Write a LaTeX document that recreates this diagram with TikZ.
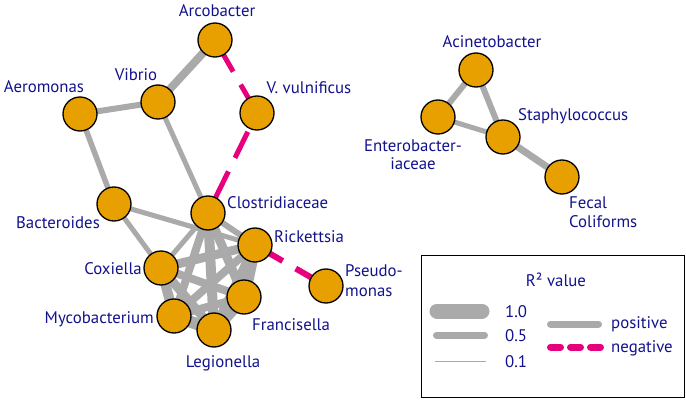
\documentclass[tikz,border=0pt]{standalone}
\usepackage{fontspec}
\setmainfont{PT Sans}
\usetikzlibrary{backgrounds}
\definecolor{nodeorange}{RGB}{232,160,0}
\definecolor{edgegrey}{RGB}{170,170,170}
\definecolor{negmagenta}{RGB}{230,0,126}
\definecolor{labelblue}{RGB}{18,18,140}
\tikzset{
  taxon/.style={circle, draw=black, line width=1.3pt, fill=nodeorange, minimum size=34pt, inner sep=0pt},
  lbl/.style={text=labelblue, font=\fontsize{16.8}{20}\selectfont, inner sep=0pt, anchor=base},
  posedge/.style={draw=edgegrey, line width=#1},
  negedge/.style={draw=negmagenta, line width=#1, dash pattern=on 29pt off 15pt},
}
\begin{document}
\begin{tikzpicture}[x=1pt,y=-1pt]
\useasboundingbox (0,0) rectangle (686,401);
\node[taxon] (arcobacter) at (215,40) {};
\node[taxon] (vibrio) at (158,102) {};
\node[taxon] (aeromonas) at (80,114) {};
\node[taxon] (vvulnificus) at (257,113) {};
\node[taxon] (bacteroides) at (114,204) {};
\node[taxon] (clostridiaceae) at (208,213) {};
\node[taxon] (rickettsia) at (255,245) {};
\node[taxon] (coxiella) at (161,268) {};
\node[taxon] (pseudomonas) at (326,286) {};
\node[taxon] (francisella) at (244,297) {};
\node[taxon] (mycobacterium) at (174,316) {};
\node[taxon] (legionella) at (214,330) {};
\node[taxon] (acinetobacter) at (476,70) {};
\node[taxon] (enterobacteriaceae) at (438,117) {};
\node[taxon] (staphylococcus) at (503,137) {};
\node[taxon] (fecal) at (562,177) {};
\node[lbl] (arcobacterlbl) at (217,17) {Arcobacter};
\node[lbl] (vibriolbl) at (136,81) {Vibrio};
\node[lbl] (aeromonaslbl) at (44,93) {Aeromonas};
\node[lbl] (vvulnificuslbl) at (309,94) {V. vulnificus};
\node[lbl] (bacteroideslbl) at (58,229) {Bacteroides};
\node[lbl, anchor=base west] (clostridiaceaelbl) at (227,209) {Clostridiaceae};
\node[lbl, anchor=base west] (rickettsialbl) at (274,243) {Rickettsia};
\node[lbl, anchor=base east] (coxiellalbl) at (142,274) {Coxiella};
\node[lbl, anchor=base west, align=left] (pseudomonaslbl) at (345,296) {Pseudo-\\monas};
\node[lbl, anchor=base west] (francisellalbl) at (252,330) {Francisella};
\node[lbl, anchor=base east] (mycobacteriumlbl) at (154,323) {Mycobacterium};
\node[lbl] (legionellalbl) at (223,367) {Legionella};
\node[lbl] (acinetobacterlbl) at (492,48) {Acinetobacter};
\node[lbl, anchor=base west] (staphylococcuslbl) at (518,121) {Staphylococcus};
\node[lbl, align=center, font=\fontsize{16.8}{18}\selectfont] (enterobacteriaceaelbl) at (413,170) {Enterobacter-\\iaceae};
\node[lbl, anchor=base west, align=left] (fecallbl) at (569,228) {Fecal\\Coliforms};
\begin{scope}[on background layer]
\draw[posedge=8pt] (arcobacter.center) -- (vibrio.center);
\draw[posedge=6pt] (vibrio.center) -- (aeromonas.center);
\draw[posedge=5.5pt] (aeromonas.center) -- (bacteroides.center);
\draw[posedge=5pt] (vibrio.center) -- (clostridiaceae.center);
\draw[posedge=5pt] (bacteroides.center) -- (rickettsia.center);
\draw[posedge=5pt] (bacteroides.center) -- (coxiella.center);
\draw[posedge=5pt] (clostridiaceae.center) -- (coxiella.center);
\draw[posedge=6pt] (clostridiaceae.center) -- (rickettsia.center);
\draw[posedge=9pt] (clostridiaceae.center) -- (francisella.center);
\draw[posedge=10pt] (clostridiaceae.center) -- (legionella.center);
\draw[posedge=8pt] (clostridiaceae.center) -- (mycobacterium.center);
\draw[posedge=9pt] (coxiella.center) -- (rickettsia.center);
\draw[posedge=8pt] (coxiella.center) -- (francisella.center);
\draw[posedge=10pt] (coxiella.center) -- (mycobacterium.center);
\draw[posedge=9pt] (coxiella.center) -- (legionella.center);
\draw[posedge=12pt] (mycobacterium.center) -- (legionella.center);
\draw[posedge=12pt] (legionella.center) -- (francisella.center);
\draw[posedge=12pt] (rickettsia.center) -- (francisella.center);
\draw[posedge=9pt] (rickettsia.center) -- (legionella.center);
\draw[posedge=8pt] (mycobacterium.center) -- (rickettsia.center);
\draw[posedge=8pt] (mycobacterium.center) -- (francisella.center);
\draw[posedge=6pt] (acinetobacter.center) -- (enterobacteriaceae.center);
\draw[posedge=6pt] (acinetobacter.center) -- (staphylococcus.center);
\draw[posedge=5pt] (enterobacteriaceae.center) -- (staphylococcus.center);
\draw[posedge=7pt] (staphylococcus.center) -- (fecal.center);
\draw[negedge=5pt, dash phase=36.5pt] (arcobacter.center) -- (vvulnificus.center);
\draw[negedge=5pt, dash phase=23pt] (vvulnificus.center) -- (clostridiaceae.center);
\draw[negedge=6pt, dash phase=41pt] (rickettsia.center) -- (pseudomonas.center);
\end{scope}
\node[draw=black, line width=1.2pt, minimum width=263pt, minimum height=142pt, anchor=north west, inner sep=0pt] (legendbox) at (421,255) {};
\node[lbl] (legendtitle) at (556,286) {R² value};
\coordinate (wideA) at (437,311);
\coordinate (wideB) at (482,311);
\coordinate (midA) at (436.5,335);
\coordinate (midB) at (484.5,335);
\coordinate (thinA) at (435,361);
\coordinate (thinB) at (486,361);
\coordinate (posA) at (550.5,324);
\coordinate (posB) at (598.5,324);
\coordinate (negA) at (550.5,347);
\coordinate (negB) at (600.5,347);
\draw[posedge=15pt, line cap=round] (wideA) -- (wideB);
\draw[posedge=7pt, line cap=round] (midA) -- (midB);
\draw[posedge=1pt] (thinA) -- (thinB);
\draw[posedge=7pt, line cap=round] (posA) -- (posB);
\draw[negedge=7pt, line cap=round, dash pattern=on 10pt off 10pt] (negA) -- (negB);
\node[lbl, anchor=base west] (widelbl) at (505,317) {1.0};
\node[lbl, anchor=base west] (midlbl) at (505,341) {0.5};
\node[lbl, anchor=base west] (thinlbl) at (505,367) {0.1};
\node[lbl, anchor=base west] (poslbl) at (611,328) {positive};
\node[lbl, anchor=base west] (neglbl) at (611,352) {negative};
\end{tikzpicture}
\end{document}
